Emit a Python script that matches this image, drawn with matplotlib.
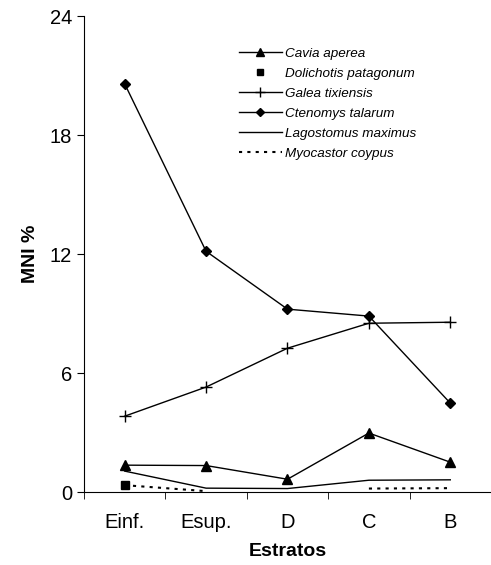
import numpy as np
import matplotlib.pyplot as plt

plt.rcParams['font.family'] = ['Liberation Sans', 'DejaVu Sans']

estratos = ['Einf.', 'Esup.', 'D', 'C', 'B']
cavia = [1.36, 1.34, 0.65, 2.98, 1.51]
dolichotis = [0.35, np.nan, np.nan, np.nan, np.nan]
galea = [3.83, 5.3, 7.26, 8.52, 8.57]
ctenomys = [20.6, 12.15, 9.23, 8.88, 4.49]
lagostomus = [1.06, 0.2, 0.18, 0.6, 0.62]
myocastor = [0.35, 0.05, np.nan, 0.18, 0.2]

x = np.arange(len(estratos))

fig = plt.figure(figsize=(4.91, 5.65), dpi=100)
ax = fig.add_axes([0.171, 0.129, 0.829, 0.842])

ax.plot(x, cavia, color='black', lw=1, marker='^', ms=6.5, label='Cavia aperea')
ax.plot(x, dolichotis, color='black', lw=0, marker='s', ms=6, label='Dolichotis patagonum')
ax.plot(x, galea, color='black', lw=1, marker='+', ms=9, mew=1, label='Galea tixiensis')
ax.plot(x, ctenomys, color='black', lw=1, marker='D', ms=5.5, label='Ctenomys talarum')
ax.plot(x, lagostomus, color='black', lw=1, label='Lagostomus maximus')
ax.plot(x, myocastor, color='black', lw=1.5, ls=(0, (1.5, 2.5)), label='Myocastor coypus')

ax.set_xlim(-0.5, 4.5)
ax.set_ylim(0, 24)
ax.set_yticks([0, 6, 12, 18, 24])
ax.set_xticks(x)
ax.set_xticklabels(estratos)
ax.set_xticks(np.arange(-0.5, 5, 1), minor=True)
ax.tick_params(axis='x', which='major', length=0, pad=15, labelsize=14.5)
ax.tick_params(axis='x', which='minor', length=5, direction='out')
ax.tick_params(axis='y', length=5, direction='out', labelsize=14.5)
ax.spines['top'].set_visible(False)
ax.spines['right'].set_visible(False)

ax.set_xlabel('Estratos', fontsize=14, fontweight='bold', labelpad=8)
ax.set_ylabel('MNI %', fontsize=14, fontweight='bold', labelpad=8)

leg = ax.legend(loc='upper left', bbox_to_anchor=(0.35, 0.96), frameon=False,
                prop={'style': 'italic', 'size': 9.7}, handlelength=3.2,
                handletextpad=0.25, labelspacing=0.56, markerscale=0.8)

fig.savefig('out.png', dpi=100)
